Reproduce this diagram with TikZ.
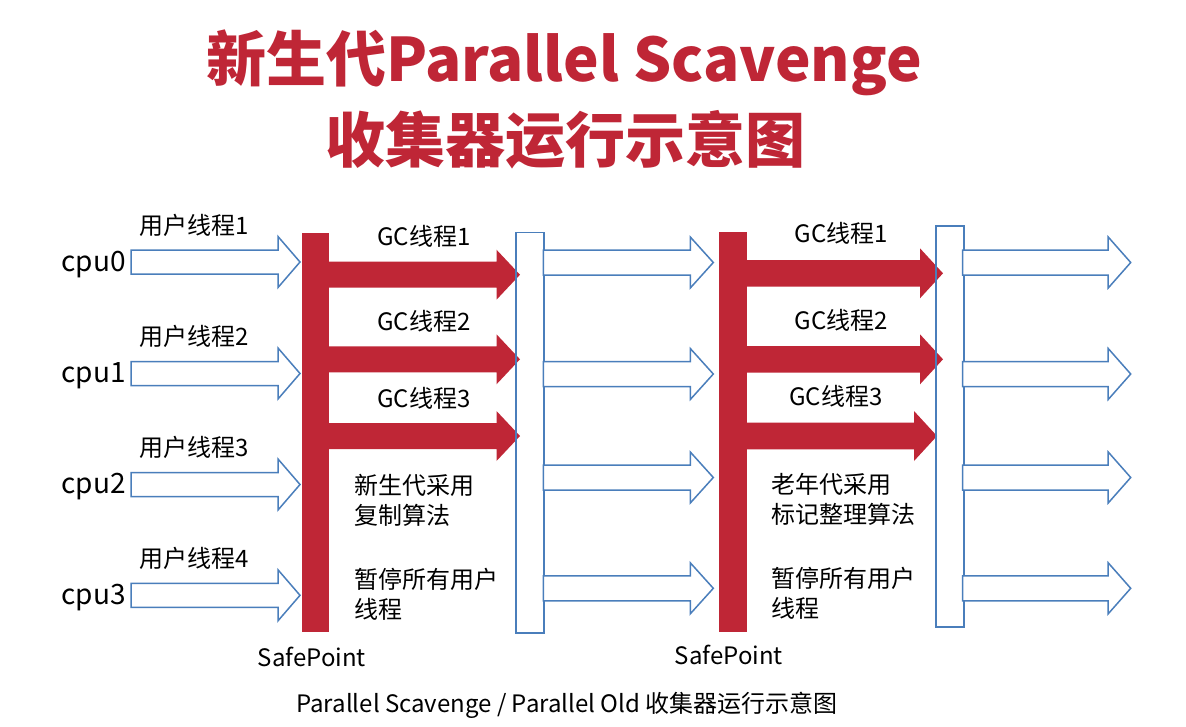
\documentclass[tikz,border=0pt]{standalone}
\usepackage{fontspec}
\setmainfont{Noto Sans CJK SC}
\usetikzlibrary{calc}
\definecolor{gcred}{RGB}{191,38,54}
\definecolor{lineblue}{RGB}{74,126,187}
\newcommand\blockarrow[6]{%
  \path[#1] let \p1=(#2), \p2=(#3) in
    (\x1,\y1+#4) -- (\x2-#6,\y1+#4) -- (\x2-#6,\y1+#5) -- (\x2,\y1)
    -- (\x2-#6,\y1-#5) -- (\x2-#6,\y1-#4) -- (\x1,\y1-#4) -- cycle;}
\tikzset{
  lbl/.style={font=\fontsize{24}{28}\selectfont, inner sep=0pt},
  cpulbl/.style={font=\fontsize{28}{32}\selectfont, inner sep=0pt, anchor=east},
  note/.style={font=\fontsize{24}{30}\selectfont, inner sep=0pt, anchor=west, align=left},
  redbar/.style={fill=gcred, draw=none, inner sep=0pt, anchor=north west},
  bluearr/.style={fill=white, draw=lineblue, line width=1.5pt, line join=miter},
  redarr/.style={fill=gcred, draw=none},
  bluebox/.style={draw=lineblue, line width=1.5pt, fill=none, inner sep=0pt, anchor=north west},
  titlefont/.style={font=\fontsize{60}{70}\selectfont\bfseries, text=gcred, inner sep=0pt},
}
\begin{document}
\begin{tikzpicture}[x=1pt,y=-1pt]
\useasboundingbox[fill=white] (0,0) rectangle (1186,726);

% title
\node[titlefont] (t1) at (564,63) {新生代Parallel Scavenge};
\node[titlefont] (t2) at (565,140) {收集器运行示意图};

% cpu labels and user thread labels
\node[cpulbl] (cpu0) at (126,265) {cpu0};
\node[cpulbl] (cpu1) at (126,376) {cpu1};
\node[cpulbl] (cpu2) at (126,487) {cpu2};
\node[cpulbl] (cpu3) at (126,598) {cpu3};
\node[lbl] (u1) at (194,225) {用户线程1};
\node[lbl] (u2) at (194,336) {用户线程2};
\node[lbl] (u3) at (194,447) {用户线程3};
\node[lbl] (u4) at (194,558) {用户线程4};

% red bars (SafePoint)
\node[redbar, minimum width=27.5pt, minimum height=399pt] (bar1) at (301.5,232.5) {};
\node[redbar, minimum width=28.5pt, minimum height=400pt] (bar2) at (718.3,231.7) {};

% left user-thread arrows
\coordinate (a0s) at (131,262);   \coordinate (a0e) at (300,262);
\coordinate (a1s) at (131,373.5); \coordinate (a1e) at (300,373.5);
\coordinate (a2s) at (131,484.5); \coordinate (a2e) at (300,484.5);
\coordinate (a3s) at (131,595.3); \coordinate (a3e) at (300,595.3);
\foreach \i in {0,...,3}{\blockarrow{bluearr}{a\i s}{a\i e}{12pt}{25.5pt}{22pt}}

% red GC arrows, phase 1
\coordinate (r1s) at (326,274.7); \coordinate (r1e) at (520,274.7);
\coordinate (r2s) at (326,359.3); \coordinate (r2e) at (520,359.3);
\coordinate (r3s) at (326,436);   \coordinate (r3e) at (520,436);
\foreach \i in {1,2,3}{\blockarrow{redarr}{r\i s}{r\i e}{13pt}{25pt}{23.5pt}}

% red GC arrows, phase 2
\coordinate (q1s) at (744,273.3); \coordinate (q1e) at (943,273.3);
\coordinate (q2s) at (744,359.3); \coordinate (q2e) at (943,359.3);
\coordinate (q3s) at (744,436);   \coordinate (q3e) at (937,436);
\foreach \i in {1,2,3}{\blockarrow{redarr}{q\i s}{q\i e}{13.3pt}{25pt}{23pt}}

% blue boxes
\node[bluebox, minimum width=28.3pt, minimum height=400.6pt] (box1) at (515,231.7) {};
\node[bluebox, minimum width=28.3pt, minimum height=401pt] (box2) at (935,225) {};

% middle arrows
\coordinate (m0s) at (543.3,262.5); \coordinate (m0e) at (713.3,262.5);
\coordinate (m1s) at (543.3,374);   \coordinate (m1e) at (713.3,374);
\coordinate (m2s) at (543.3,477.5); \coordinate (m2e) at (713.3,477.5);
\coordinate (m3s) at (543.3,588.3); \coordinate (m3e) at (713.3,588.3);
\foreach \i in {0,...,3}{\blockarrow{bluearr}{m\i s}{m\i e}{12.5pt}{25.5pt}{23pt}}

% right arrows
\coordinate (n0s) at (962.5,262.5); \coordinate (n0e) at (1130.7,262.5);
\coordinate (n1s) at (962.5,374);   \coordinate (n1e) at (1130.7,374);
\coordinate (n2s) at (962.5,477.5); \coordinate (n2e) at (1130.7,477.5);
\coordinate (n3s) at (962.5,588.3); \coordinate (n3e) at (1130.7,588.3);
\foreach \i in {0,...,3}{\blockarrow{bluearr}{n\i s}{n\i e}{12.5pt}{25.5pt}{22.5pt}}

% GC thread labels
\node[lbl] (g1) at (424,236.7) {GC线程1};
\node[lbl] (g2) at (424,321.7) {GC线程2};
\node[lbl] (g3) at (424,398.3) {GC线程3};
\node[lbl] (h1) at (841.5,233.3) {GC线程1};
\node[lbl] (h2) at (841.5,320) {GC线程2};
\node[lbl] (h3) at (836,396.7) {GC线程3};

% notes
\node[note] (n1a) at (354,500) {新生代采用\\复制算法};
\node[note] (n1b) at (354,594) {暂停所有用户\\线程};
\node[note] (n2a) at (771.7,499) {老年代采用\\标记整理算法};
\node[note] (n2b) at (771.7,593) {暂停所有用户\\线程};

% SafePoint labels
\node[lbl] (sp1) at (312,657) {SafePoint};
\node[lbl] (sp2) at (729,655) {SafePoint};

% caption
\node[lbl] (cap) at (567,705) {Parallel Scavenge / Parallel Old 收集器运行示意图};
\end{tikzpicture}
\end{document}
